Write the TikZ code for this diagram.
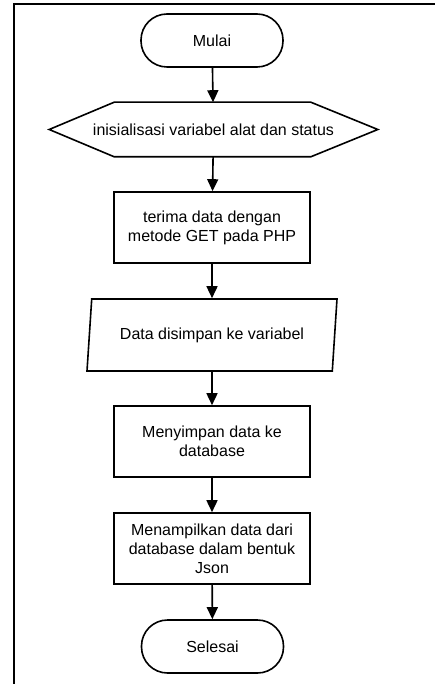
\documentclass[tikz,border=0pt]{standalone}
\usepackage{fontspec}
\setmainfont{Liberation Sans}
\usepackage{tikz}
\usetikzlibrary{arrows.meta}
\usetikzlibrary{shapes.geometric}
\usetikzlibrary{positioning}

\begin{document}
\begin{tikzpicture}[x=1pt, y=1pt,
		base/.style = {draw, line width=1.6pt, align=center, inner sep=2pt,
			font=\fontsize{16}{19}\selectfont},
		T/.style = {base, rectangle, rounded corners=26pt,
			minimum width=142pt, minimum height=53pt},
		H/.style = {base, draw=none, rectangle,
			minimum width=327pt, minimum height=53pt},
		P/.style = {base, trapezium, trapezium left angle=76, trapezium right angle=104,
			trapezium stretches body, minimum width=250pt, minimum height=72pt},
		R/.style = {base, rectangle, minimum width=196pt, minimum height=71pt},
		arr/.style = {line width=1.6pt, -{Triangle[length=12pt,width=11pt]}}
		]
		\useasboundingbox (0,0) rectangle (435,-684);
		\draw[line width=1.8pt] (14,-684) -- (14,-4) -- (435,-4);
		
		\node[T] (1) at (212,-40.5)   {Mulai};
		\node[H] (2) at (213.5,-129.5) {inisialisasi variabel alat dan status};
		\node[R] (3) at (212,-227.5)  {terima data dengan\\metode GET pada PHP};
		\node[P] (4) at (212,-335)    {Data disimpan ke variabel};
		\node[R] (5) at (212,-441.5)  {Menyimpan data ke\\database};
		\node[R] (6) at (212,-548.5)  {Menampilkan data dari\\database dalam bentuk\\Json};
		\node[T] (7) at (212.5,-646.5) {Selesai};
		
		% hexagon around node 2
		\draw[line width=1.6pt, line join=miter] (2.west) -- ([xshift=65pt]2.north west)
			-- ([xshift=-67pt]2.north east) -- (2.east)
			-- ([xshift=-67pt]2.south east) -- ([xshift=65pt]2.south west) -- cycle;
		
		\draw (1) edge[arr] (2);
		\draw (2) edge[arr] (3);
		\draw (3) edge[arr] (4);
		\draw (4) edge[arr] (5);
		\draw (5) edge[arr] (6);
		\draw (6) edge[arr] (7);
	\end{tikzpicture}
\end{document}
